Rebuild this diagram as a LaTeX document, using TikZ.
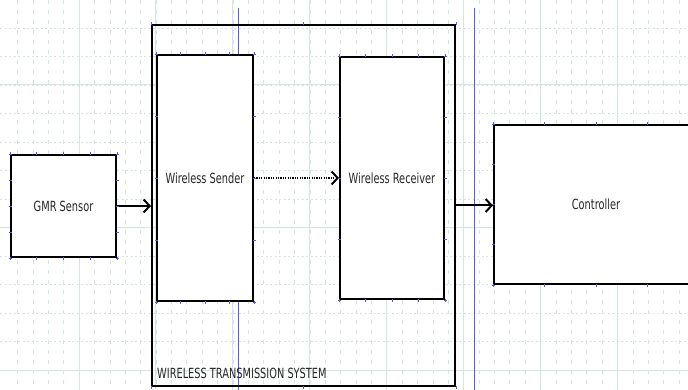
\documentclass[tikz,border=0pt]{standalone}
\usepackage{fontspec}
\setmainfont{DejaVu Sans}[FakeStretch=0.7]
\usetikzlibrary{arrows.meta,calc}
\definecolor{gridc}{RGB}{214,228,228}
\definecolor{guideblue}{RGB}{90,90,225}

\begin{document}
\begin{tikzpicture}[x=1pt,y=-1pt,
  box/.style={draw=black,line width=2pt,fill=white,inner sep=0pt,
    font=\fontsize{14}{16}\selectfont,text=black!85},
  link/.style={line width=2pt,-{Straight Barb[length=6pt,width=13pt,line width=2pt]}},
  cpt/.style={draw=guideblue,line width=0.7pt}]
  \clip (0,0) rectangle (688,390);
  \fill[white] (0,0) rectangle (688,390);
  % grid
  \foreach \i in {0,...,44}
    \draw[gridc,dash pattern=on 4pt off 6pt] ({17.5+15.38*\i},0) -- ({17.5+15.38*\i},390);
  \foreach \j in {0,...,13}
    \draw[gridc,dash pattern=on 2pt off 2.5pt] (0,{28+28.5*\j}) -- (688,{28+28.5*\j});
  \foreach \i in {0,...,8}
    \draw[gridc,line width=1pt] ({79+76.9*\i},0) -- ({79+76.9*\i},390);
  \foreach \j in {0,1,2}
    \draw[gridc,line width=1pt] (0,{85+142.5*\j}) -- (688,{85+142.5*\j});
  \draw[guideblue] (238,8) -- (238,390);
  \draw[guideblue] (474,8) -- (474,390);

  \node[box,minimum width=105pt,minimum height=102pt] (sensor) at (63.5,206) {GMR Sensor};
  \node[draw=black,line width=2pt,minimum width=303pt,minimum height=361pt] (system) at (303.5,205.5) {};
  \node[box,minimum width=96pt,minimum height=246pt] (sender) at (205,178) {Wireless Sender};
  \node[box,minimum width=104pt,minimum height=242pt] (receiver) at (392,178) {Wireless Receiver};
  \node[box,minimum width=204pt,minimum height=159pt] (controller) at (596,204.5) {Controller};
  \node[anchor=base west,inner sep=0pt,font=\fontsize{14}{16}\selectfont,text=black!85] (systxt) at (157,378) {WIRELESS TRANSMISSION SYSTEM};

  \draw[link] (sensor.east) -- (sensor.east -| system.west);
  \draw[link,dash pattern=on 1.2pt off 1.2pt] (sender.east) -- (receiver.west);
  \draw[link] (system.east) -- (system.east -| controller.west);

  % connection points
  \foreach \b in {sensor,sender,receiver,controller}
    \foreach \f in {0,0.25,0.5,0.75,1} {
      \draw[cpt] ($(\b.north west)!\f!(\b.north east)$) +(0,-1.5) -- +(0,1.5);
      \draw[cpt] ($(\b.south west)!\f!(\b.south east)$) +(0,-1.5) -- +(0,1.5);
      \draw[cpt] ($(\b.north west)!\f!(\b.south west)$) +(-1.5,0) -- +(1.5,0);
      \draw[cpt] ($(\b.north east)!\f!(\b.south east)$) +(-1.5,0) -- +(1.5,0);
    }
  \foreach \a in {north west,north,north east,south west,south,south east}
    \draw[cpt] (system.\a) +(0,-1.5) -- +(0,1.5);
\end{tikzpicture}
\end{document}
